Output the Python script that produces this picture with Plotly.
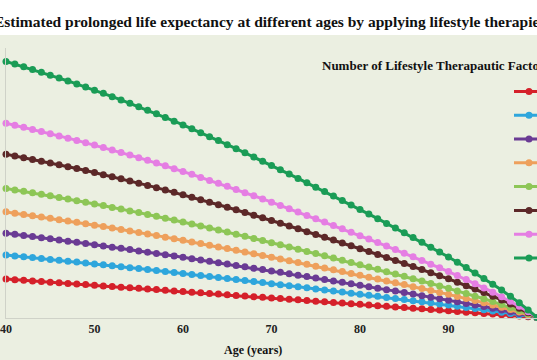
import plotly.graph_objects as go

ages = list(range(40, 101))

factor_labels = ["1", "2", "3", "4", "5", "6", "7", "8"]

f1 = [3.6, 3.54, 3.48, 3.43, 3.37, 3.31, 3.25, 3.19, 3.14, 3.08,
      3.02, 2.96, 2.9, 2.84, 2.79, 2.73, 2.67, 2.61, 2.55, 2.49,
      2.43, 2.37, 2.31, 2.25, 2.19, 2.13, 2.07, 2.01, 1.95, 1.89,
      1.83, 1.77, 1.71, 1.65, 1.59, 1.53, 1.47, 1.41, 1.35, 1.29,
      1.23, 1.17, 1.11, 1.05, 0.99, 0.93, 0.87, 0.81, 0.75, 0.69,
      0.63, 0.56, 0.5, 0.44, 0.38, 0.32, 0.25, 0.19, 0.13, 0.06, 0.0]
f2 = [5.85, 5.77, 5.69, 5.61, 5.52, 5.44, 5.36, 5.27, 5.19, 5.1,
      5.02, 4.93, 4.84, 4.76, 4.67, 4.58, 4.49, 4.4, 4.31, 4.22,
      4.12, 4.03, 3.94, 3.84, 3.75, 3.65, 3.56, 3.46, 3.37, 3.27,
      3.17, 3.07, 2.98, 2.88, 2.78, 2.68, 2.58, 2.48, 2.38, 2.28,
      2.18, 2.08, 1.98, 1.88, 1.78, 1.68, 1.57, 1.47, 1.37, 1.26,
      1.16, 1.05, 0.94, 0.83, 0.72, 0.61, 0.5, 0.38, 0.26, 0.13, 0.0]
f3 = [7.9, 7.8, 7.69, 7.58, 7.48, 7.37, 7.26, 7.15, 7.04, 6.93,
      6.82, 6.71, 6.59, 6.48, 6.36, 6.24, 6.12, 6.0, 5.88, 5.76,
      5.64, 5.51, 5.39, 5.26, 5.13, 5.01, 4.88, 4.75, 4.62, 4.49,
      4.36, 4.23, 4.09, 3.96, 3.83, 3.69, 3.56, 3.42, 3.29, 3.15,
      3.02, 2.88, 2.74, 2.6, 2.47, 2.33, 2.19, 2.04, 1.9, 1.76,
      1.62, 1.47, 1.32, 1.17, 1.02, 0.86, 0.7, 0.54, 0.37, 0.19, 0.0]
f4 = [9.9, 9.78, 9.66, 9.54, 9.42, 9.3, 9.17, 9.05, 8.92, 8.79,
      8.65, 8.52, 8.38, 8.25, 8.11, 7.97, 7.82, 7.68, 7.53, 7.38,
      7.23, 7.08, 6.93, 6.77, 6.61, 6.46, 6.3, 6.13, 5.97, 5.81,
      5.65, 5.48, 5.31, 5.15, 4.98, 4.81, 4.64, 4.47, 4.3, 4.13,
      3.96, 3.78, 3.61, 3.43, 3.25, 3.08, 2.89, 2.71, 2.53, 2.35,
      2.17, 1.97, 1.78, 1.58, 1.38, 1.17, 0.96, 0.74, 0.51, 0.26, 0.0]
f5 = [12.1, 11.96, 11.83, 11.68, 11.54, 11.4, 11.25, 11.1, 10.95, 10.8,
      10.64, 10.49, 10.32, 10.16, 9.99, 9.83, 9.65, 9.48, 9.31, 9.13,
      8.95, 8.76, 8.57, 8.38, 8.19, 8.0, 7.81, 7.61, 7.41, 7.22,
      7.01, 6.81, 6.61, 6.4, 6.19, 5.99, 5.78, 5.57, 5.36, 5.15,
      4.94, 4.73, 4.51, 4.29, 4.08, 3.86, 3.63, 3.41, 3.19, 2.96,
      2.73, 2.49, 2.25, 2.0, 1.75, 1.49, 1.22, 0.94, 0.65, 0.34, 0.0]
f6 = [15.3, 15.14, 14.98, 14.81, 14.65, 14.48, 14.31, 14.13, 13.96, 13.77,
      13.58, 13.39, 13.2, 13.0, 12.8, 12.59, 12.38, 12.17, 11.95, 11.73,
      11.51, 11.28, 11.04, 10.81, 10.57, 10.33, 10.09, 9.84, 9.59, 9.34,
      9.09, 8.83, 8.57, 8.31, 8.04, 7.78, 7.52, 7.26, 6.99, 6.72,
      6.45, 6.18, 5.9, 5.62, 5.34, 5.06, 4.78, 4.49, 4.2, 3.91,
      3.62, 3.3, 2.98, 2.66, 2.33, 1.99, 1.64, 1.27, 0.87, 0.45, 0.0]
f7 = [18.2, 18.01, 17.82, 17.62, 17.43, 17.22, 17.02, 16.81, 16.6, 16.38,
      16.16, 15.93, 15.7, 15.46, 15.22, 14.98, 14.73, 14.48, 14.22, 13.95,
      13.69, 13.42, 13.13, 12.85, 12.57, 12.29, 12.0, 11.7, 11.41, 11.11,
      10.81, 10.5, 10.19, 9.88, 9.57, 9.26, 8.95, 8.63, 8.31, 7.99,
      7.67, 7.35, 7.02, 6.69, 6.36, 6.02, 5.68, 5.34, 5.0, 4.65,
      4.3, 3.93, 3.55, 3.16, 2.77, 2.37, 1.95, 1.51, 1.04, 0.54, 0.0]
f8 = [24.0, 23.75, 23.5, 23.24, 22.98, 22.71, 22.44, 22.17, 21.89, 21.6,
      21.31, 21.01, 20.7, 20.39, 20.07, 19.75, 19.42, 19.09, 18.75, 18.4,
      18.05, 17.69, 17.32, 16.95, 16.58, 16.2, 15.82, 15.43, 15.04, 14.65,
      14.25, 13.85, 13.44, 13.03, 12.62, 12.21, 11.8, 11.38, 10.96, 10.54,
      10.12, 9.69, 9.26, 8.82, 8.38, 7.94, 7.49, 7.04, 6.59, 6.13,
      5.67, 5.18, 4.68, 4.17, 3.65, 3.12, 2.57, 1.99, 1.37, 0.71, 0.0]

series = [f1, f2, f3, f4, f5, f6, f7, f8]
colors = ["#d5202a", "#2ea6dc", "#6a3b94", "#eea05c", "#8dc656",
          "#5c2828", "#e57ee3", "#1a9c56"]

tick_vals = [40, 50, 60, 70, 80, 90]
tick_text = ["40", "50", "60", "70", "80", "90"]

title_text = ("Estimated prolonged life expectancy at different ages by "
              "applying lifestyle therapies")
legend_title = "Number of Lifestyle Therapautic Factors"
x_title = "Age (years)"

W, H = 537, 360
L, R, T, B = 6, 0, 48, 42
pw, ph = W - L - R, H - T - B


def px2x(p):
    return (p - L) / pw


def px2y(p):
    return (H - B - p) / ph


BG = "#ebefe1"
SERIF = "Liberation Serif, Times New Roman, serif"

fig = go.Figure()
for name, vals, col in zip(factor_labels, series, colors):
    fig.add_trace(go.Scatter(
        x=ages, y=vals, name=" ",
        mode="lines+markers",
        line=dict(color=col, width=3),
        marker=dict(color=col, size=7),
        hovertemplate=name + " factor(s): %{y}<extra></extra>",
        cliponaxis=False,
    ))

fig.update_layout(
    width=W, height=H,
    margin=dict(l=L, r=R, t=T, b=B, autoexpand=False),
    paper_bgcolor=BG, plot_bgcolor=BG,
    showlegend=True,
    legend=dict(
        x=px2x(509), y=px2y(74.5), xanchor="left", yanchor="top",
        bgcolor="rgba(0,0,0,0)",
        font=dict(family=SERIF, size=16, color="#222222"),
        itemwidth=30, tracegroupgap=0,
    ),
    xaxis=dict(
        range=[40, 100], tickvals=tick_vals, ticktext=tick_text,
        showgrid=False, zeroline=False, showline=True,
        linecolor="#cfd2c8", linewidth=1, ticks="",
        tickfont=dict(family=SERIF, size=12, color="#222222",
                      weight="bold"),
    ),
    yaxis=dict(
        range=[-0.05, 25.26], showticklabels=False,
        showgrid=False, zeroline=False, showline=True,
        linecolor="#cfd2c8", linewidth=1, ticks="",
    ),
    shapes=[dict(
        type="rect", xref="paper", yref="paper", layer="below",
        x0=px2x(-2), x1=px2x(W + 2), y0=px2y(35), y1=px2y(-2),
        fillcolor="white", line=dict(width=0),
    )],
    annotations=[
        dict(text="<b>" + title_text + "</b>", xref="paper", yref="paper",
             x=px2x(269), y=px2y(22), xanchor="center", yanchor="middle",
             showarrow=False,
             font=dict(family=SERIF, size=15.5, color="#111111")),
        dict(text="<b>" + legend_title + "</b>", xref="paper", yref="paper",
             x=px2x(320), y=px2y(65), xanchor="left", yanchor="middle",
             showarrow=False,
             font=dict(family=SERIF, size=13.0, color="#111111")),
        dict(text="<b>" + x_title + "</b>", xref="paper", yref="paper",
             x=px2x(252.5), y=px2y(350), xanchor="center", yanchor="middle",
             showarrow=False,
             font=dict(family=SERIF, size=12, color="#111111")),
    ],
)

fig.write_html("out.html", config={"displayModeBar": False},
               post_script="document.body.style.margin='0';")
